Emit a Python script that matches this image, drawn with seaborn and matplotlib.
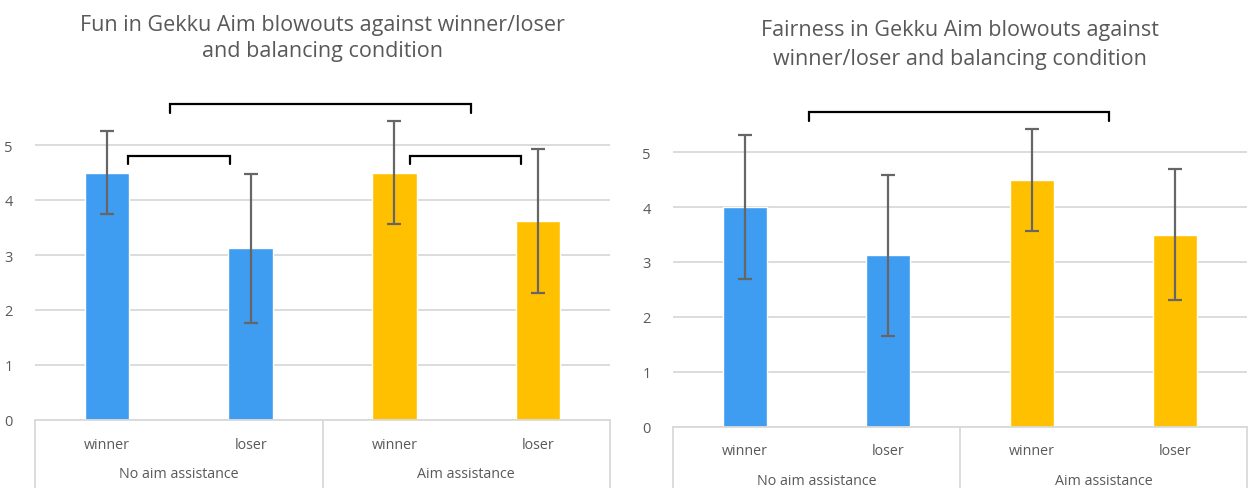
import matplotlib
matplotlib.use("Agg")
import matplotlib.pyplot as plt
import matplotlib.transforms as mtransforms
import seaborn as sns
import pandas as pd

sns.set_style("white")
plt.rcParams['font.family'] = ['Open Sans', 'DejaVu Sans']

# ---- data ----
roles = ["winner", "loser", "winner", "loser"]
conditions = ["No aim assistance", "No aim assistance", "Aim assistance", "Aim assistance"]
group_labels = ["No aim assistance", "Aim assistance"]
fun_means = [4.5, 3.12, 4.5, 3.62]
fun_sd = [0.76, 1.36, 0.93, 1.31]
fair_means = [4.0, 3.12, 4.5, 3.5]
fair_sd = [1.31, 1.46, 0.93, 1.2]
titles = ["Fun in Gekku Aim blowouts against winner/loser\nand balancing condition",
          "Fairness in Gekku Aim blowouts against\nwinner/loser and balancing condition"]
palette = {"No aim assistance": "#3E9CF1", "Aim assistance": "#FFC000"}

TXT = "#595959"
GRID = "#D9D9D9"

W, H = 1248, 489
fig = plt.figure(figsize=(W / 100, H / 100), dpi=100)

def make_ax(x0, x1, y0px, unit):
    ymax = 5.6
    top = y0px - ymax * unit
    return fig.add_axes([x0 / W, (H - y0px) / H, (x1 - x0) / W, (y0px - top) / H]), ymax

panels = [
    dict(x0=35, x1=610, y0=421, unit=55, means=fun_means, sd=fun_sd, title=titles[0],
         title_y=38.5, ls=1.35,
         brackets=[(0.44, 2.53, 5.75, 5.58), (0.147, 0.857, 4.8, 4.65), (2.11, 2.88, 4.8, 4.65)]),
    dict(x0=673, x1=1247, y0=427.7, unit=54.9, means=fair_means, sd=fair_sd, title=titles[1],
         title_y=45, ls=1.55, brackets=[(0.446, 2.538, 5.73, 5.57)]),
]

for p in panels:
    ax, ymax = make_ax(p["x0"], p["x1"], p["y0"], p["unit"])
    keys = [f"{c}|{r}" for c, r in zip(conditions, roles)]
    df = pd.DataFrame({"key": keys, "value": p["means"], "cond": conditions})
    sns.barplot(data=df, x="key", y="value", hue="cond", palette=palette, order=keys,
                dodge=False, width=0.31, errorbar=None, legend=False, ax=ax, saturation=1)
    ax.errorbar(range(4), p["means"], yerr=p["sd"], fmt="none", ecolor="#666666",
                elinewidth=1.6, capsize=5, capthick=1.6, zorder=5)
    ax.set_xlim(-0.5, 3.5)
    ax.set_ylim(0, ymax)
    ax.set_yticks([0, 1, 2, 3, 4, 5])
    ax.set_yticklabels(["0", "1", "2", "3", "4", "5"])
    ax.yaxis.grid(True, color=GRID, linewidth=1.3)
    ax.set_axisbelow(True)
    for s in ["top", "right", "left"]:
        ax.spines[s].set_visible(False)
    ax.spines["bottom"].set_color(GRID)
    ax.spines["bottom"].set_linewidth(1.3)
    ax.tick_params(axis="y", length=0, pad=16, labelsize=10.5, labelcolor=TXT)
    ax.tick_params(axis="x", length=0, pad=12, labelsize=10.3, labelcolor=TXT)
    ax.set_xticks(range(4))
    ax.set_xticklabels(roles)
    ax.set_xlabel("")
    ax.set_ylabel("")
    # group labels and separators
    trans = mtransforms.blended_transform_factory(ax.transData, ax.transAxes)
    axh_px = ymax * p["unit"]
    bottom_frac = -(H - p["y0"]) / axh_px
    for gx, gl in zip([0.5, 2.5], group_labels):
        ax.text(gx, -(54 / axh_px), gl, transform=trans, ha="center", va="center",
                fontsize=10.3, color=TXT)
    for vx in [-0.5, 1.5, 3.5]:
        ax.plot([vx, vx], [0, bottom_frac], transform=trans, color=GRID, lw=1.3, clip_on=False)
    # significance brackets
    for (bx0, bx1, yt, yb) in p["brackets"]:
        ax.plot([bx0, bx0, bx1, bx1], [yb, yt, yt, yb], color="black", lw=1.6,
                clip_on=False, solid_joinstyle="miter")
    # title
    fig.text(((p["x0"] + p["x1"]) / 2) / W, 1 - p["title_y"] / H, p["title"], ha="center",
             va="center", fontsize=15.5, color=TXT, linespacing=p["ls"])

fig.savefig("out.png", dpi=100)
